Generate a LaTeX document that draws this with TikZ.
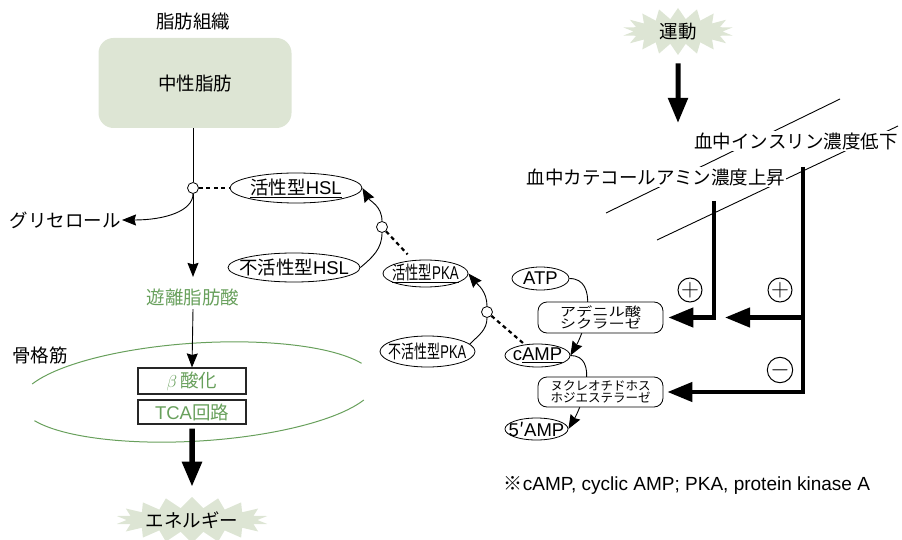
\documentclass[tikz,border=0pt]{standalone}
\usepackage{fontspec}
\setmainfont{Noto Sans CJK JP}
\newfontfamily\notefont{Liberation Sans}
\usepackage{graphicx}
\usetikzlibrary{shapes,arrows.meta,positioning,calc,backgrounds}
\definecolor{leafbg}{RGB}{221,229,212}
\definecolor{fagreen}{RGB}{104,160,92}
\def\labelsize{\fontsize{18.5}{20}\selectfont}
\newcommand\tight[1]{\makebox[0pt]{#1}}
\tikzset{
  oval/.style={draw, ellipse, line width=0.8pt, inner sep=0pt, font=\labelsize},
  hub/.style={draw, circle, line width=0.8pt, fill=white, inner sep=0pt, minimum size=11pt},
  thin arrow/.style={-{Stealth[length=14pt,width=11pt,inset=1.5pt]}},
  fat arrow/.style={line width=4.5pt, -{Triangle[length=25pt,width=19pt]}},
  enzyme/.style={draw, line width=0.8pt, rounded corners=9pt, fill=white, minimum width=125pt, minimum height=31pt,
    align=center, inner sep=0pt, font=\fontsize{12.5}{12}\selectfont},
  phos/.style={line width=2.2pt, dash pattern=on 4pt off 3.5pt},
  burst/.style={starburst, starburst points=18, starburst point height=11pt, random starburst=0,
    fill=leafbg, inner sep=0pt, font=\labelsize},
  stage/.style={draw=black!85, line width=1.1pt, minimum width=108pt, inner sep=0pt, text=fagreen, font=\labelsize},
  sign/.style={draw, circle, line width=1pt, minimum size=24pt, inner sep=0pt, font=\fontsize{24}{24}\selectfont},
}

\begin{document}
\begin{tikzpicture}[x=1pt,y=1pt]
\useasboundingbox (0,0) rectangle (902,539);

\node[font=\labelsize] (tissue) at (193,517) {脂肪組織};
\node[fill=leafbg, rounded corners=15pt, minimum width=193pt, minimum height=90pt, font=\labelsize] (tg) at (195,456) {中性脂肪};

\node[hub] (c1) at (193,351) {};
\node[font=\labelsize, anchor=east, inner sep=1pt] (glyc) at (122,319) {グリセロール};
\node[text=fagreen, font=\labelsize] (FFA) at (193,242) {遊離脂肪酸};

\node[oval, minimum width=132pt, minimum height=30pt] (HSLa) at (296,351) {\tight{\underline{活性型{\notefont HSL}}}};
\node[oval, minimum width=132pt, minimum height=29pt] (HSLi) at (294,271.5) {\tight{不活性型{\notefont HSL}}};
\node[hub] (c2) at (382,312) {};

\node[oval, minimum width=85pt, minimum height=27pt] (PKAa) at (425.5,265.5) {\tight{\scalebox{0.72}[1]{\underline{活性型{\notefont PKA}}}}};
\node[oval, minimum width=95pt, minimum height=31pt] (PKAi) at (427.5,187.5) {\tight{\scalebox{0.7}[1]{不活性型{\notefont PKA}}}};
\node[hub] (c3) at (487,227) {};

\node[oval, minimum width=57pt, minimum height=23pt] (ATP) at (540.5,260.5) {\tight{\notefont ATP}};
\node[oval, minimum width=65pt, minimum height=23pt] (cAMP) at (537.5,183.5) {\tight{\notefont c\underline{AMP}}};
\node[oval, minimum width=63pt, minimum height=22pt] (AMP5) at (536.5,110) {\tight{{\notefont 5}′{\notefont AMP}}};
\node[enzyme] (AC) at (600.5,221.5) {\scalebox{1.3}[1]{アデニル酸}\\\scalebox{1.3}[1]{シクラーゼ}};
\node[enzyme, minimum height=30pt] (PDE) at (600.5,147) {ヌクレオチドホス\\ホジエステラーゼ};

\node[font=\labelsize] (muscle) at (40,184) {骨格筋};
\node[stage, minimum height=26pt] (beta) at (192,158) {$\beta$\,酸化};
\node[stage, minimum height=24pt] (tca) at (192,127) {{\notefont TCA}回路};
\node[burst, minimum width=150pt, minimum height=46pt] (energy) at (192,19) {エネルギー};

\node[burst, minimum width=111pt, minimum height=47pt] (undou) at (678,507.5) {運動};
\coordinate (drop) at (678,416);
\node[fill=white, inner sep=1pt, font=\labelsize] (insulin) at (796,398) {血中インスリン濃度低下};
\node[fill=white, inner sep=1pt, font=\labelsize] (catech) at (656,362) {血中カテコールアミン濃度上昇};
\coordinate (catechdrop) at (714,338);
\coordinate (insdrop) at (803,372);
\coordinate (branchtip) at (725,221.5);

\node[sign] (plusA) at (690,249) {$+$};
\node[sign] (plusB) at (780,249) {$+$};
\node[sign] (minusB) at (780,169) {$-$};

\node[font=\fontsize{19}{20}\selectfont] (note) at (687,54) {※{\notefont cAMP, cyclic AMP; PKA, protein kinase A}};

\draw[line width=0.9pt] (c1 |- tg.south) -- (c1.north);
\draw[thin arrow, line width=0.9pt, shorten >=8pt] (c1.south) -- (FFA.north);
\draw[thin arrow, line width=0.9pt] (c1.south) .. controls (193,328) and (165,319) .. (glyc.east);
\draw[thin arrow, line width=0.9pt] (FFA.south) -- (beta.north);
\draw[fat arrow, line width=5.5pt, shorten <=4pt, shorten >=10pt] (tca.south) -- (energy.north);

\draw[phos] (c1.east) -- (HSLa.west);
\draw[line width=0.9pt] (HSLi.east) to[out=40,in=-90] (c2.south);
\draw[thin arrow, line width=0.9pt] (c2.north) to[out=90,in=-60] (HSLa.east);
\draw[phos, shorten >=8pt] (c2) -- (PKAa);
\draw[line width=0.9pt] (PKAi.10) to[out=45,in=-90] (c3.south);
\draw[thin arrow, line width=0.9pt] (c3.north) to[out=90,in=-50] (PKAa.east);
\draw[phos] (c3) -- (cAMP);

\draw[fat arrow, line width=5pt, shorten <=8pt] (undou.south) -- (drop);
\draw[fat arrow, shorten >=5pt] (catechdrop) |- (AC.east);
\draw[fat arrow, shorten >=4pt] (insdrop) |- (PDE.east);
\draw[fat arrow] (insdrop |- AC.east) -- (branchtip);

\begin{scope}[on background layer]
  \draw[thin arrow, line width=0.9pt] (ATP.east) to[out=0,in=60] (cAMP.east);
  \draw[thin arrow, line width=0.9pt] (cAMP.east) to[out=0,in=60] (AMP5.east);
  \draw[line width=0.9pt] (840,440) -- (606,326);
  \draw[line width=0.9pt] (898,413) -- (657,299);
  \begin{scope}[shift={(198,147)}, rotate=3.6]
    \draw[fagreen, line width=1pt] (22:178pt and 49pt) arc[start angle=22, end angle=158, x radius=178pt, y radius=49pt];
    \draw[fagreen, line width=1pt] (202:178pt and 49pt) arc[start angle=202, end angle=338, x radius=178pt, y radius=49pt];
  \end{scope}
\end{scope}

\end{tikzpicture}
\end{document}
